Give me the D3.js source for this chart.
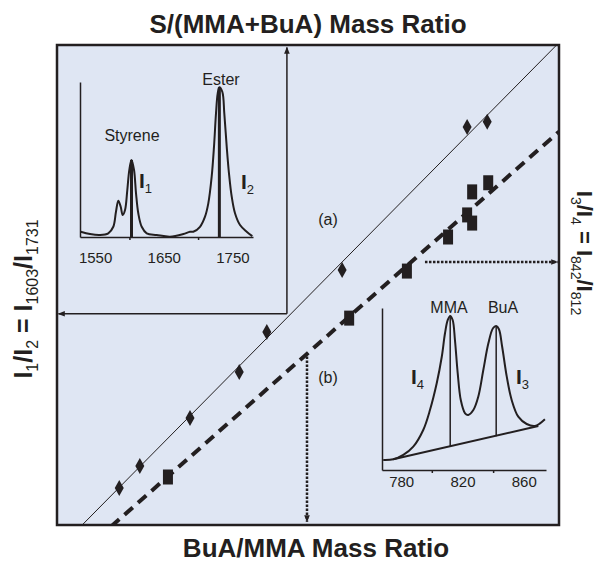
<!DOCTYPE html>
<html>
<head>
<meta charset="utf-8">
<script src="https://cdn.jsdelivr.net/npm/d3@7"></script>
<style>
  body { margin: 0; background: #fff; }
  svg text { font-family: "Liberation Sans", Arial, Helvetica, sans-serif; fill: #231f20; }
</style>
</head>
<body>
<svg width="601" height="565" class="chart"></svg>
<script>
// series (a): diamonds, S/(MMA+BuA) vs I1/I2 (normalised axes, no ticks in the original)
var diamondX = [0.124, 0.165, 0.265, 0.363, 0.418, 0.568, 0.817, 0.857];
var diamondY = [0.077, 0.123, 0.223, 0.319, 0.402, 0.531, 0.829, 0.840];
// series (b): squares, BuA/MMA vs I3/I4
var squareX = [0.221, 0.582, 0.697, 0.779, 0.817, 0.827, 0.827, 0.859];
var squareY = [0.100, 0.431, 0.529, 0.600, 0.646, 0.629, 0.694, 0.713];
// linear fits
var fitA = { slope: 1.058, intercept: -0.053 };
var fitB = { slope: 0.922, intercept: -0.1025 };

// inset 1: Raman spectrum 1528-1780 cm-1
var inset1Wn = [1529, 1542.6, 1557.1, 1569.2, 1576.5, 1580.4, 1583.8, 1587.3, 1590.2, 1593.6,
  1596.9, 1599.8, 1603, 1606.7, 1609.6, 1612.9, 1617.9, 1625.2, 1639.7, 1659.1, 1678.5, 1688.2,
  1693, 1702.8, 1710.1, 1714.9, 1719.8, 1723.2, 1726.1, 1728.6, 1731, 1735.3, 1738.2, 1741.7,
  1745, 1749, 1753.8, 1761.1, 1770.8, 1779];
var inset1Int = [0.034, 0.019, 0.013, 0.024, 0.066, 0.163, 0.234, 0.195, 0.142, 0.174,
  0.303, 0.432, 0.497, 0.432, 0.282, 0.153, 0.066, 0.024, 0.013, 0.002, 0.019, 0.034,
  0.034, 0.066, 0.131, 0.217, 0.389, 0.583, 0.798, 0.927, 0.966, 0.937, 0.798, 0.583,
  0.411, 0.260, 0.153, 0.077, 0.034, 0.006];
var inset1Peaks = [1603, 1731];
var inset1PeakInt = [0.497, 0.966];
var inset1Ticks = [1600, 1700];
var inset1Labels = [1550, 1650, 1750];

// inset 2: Raman spectrum 767-875 cm-1
var inset2Wn = [768.3, 774.9, 781.4, 787.9, 794.4, 798.8, 803.2, 806.5, 808.6, 810.4, 812,
  813.6, 815.1, 816.9, 818.9, 821.7, 823.8, 827.1, 830.3, 833.6, 836.9, 839.9, 842, 843.8,
  845.9, 848.9, 852.1, 856.4, 861.9, 867.3, 870.6, 873.8];
var inset2Int = [0.062, 0.066, 0.093, 0.144, 0.247, 0.370, 0.535, 0.699, 0.844, 0.926, 0.951,
  0.926, 0.802, 0.597, 0.432, 0.350, 0.340, 0.370, 0.452, 0.617, 0.782, 0.875, 0.889, 0.869,
  0.761, 0.576, 0.432, 0.329, 0.284, 0.272, 0.288, 0.313];
var inset2BaseWn = [774.9, 869.5];
var inset2BaseInt = [0.066, 0.272];
var inset2Peaks = [812, 842];
var inset2PeakBase = [0.147, 0.209];
var inset2PeakTop = [0.951, 0.885];
var inset2Ticks = [800, 840];
var inset2Labels = [780, 820, 860];

var ink = "#231f20";
var svg = d3.select(".chart");

var frame = { left: 57, top: 45, right: 559, bottom: 525 };
var x = d3.scaleLinear().domain([0, 1]).range([frame.left, frame.right]);
var y = d3.scaleLinear().domain([0, 1]).range([frame.bottom, frame.top]);

var defs = svg.append("defs");
defs.append("clipPath").attr("id", "clip")
  .append("rect")
  .attr("x", frame.left).attr("y", frame.top)
  .attr("width", frame.right - frame.left).attr("height", frame.bottom - frame.top);
defs.append("marker")
  .attr("id", "arrow")
  .attr("viewBox", "0 0 10 10")
  .attr("refX", 9).attr("refY", 5)
  .attr("markerWidth", 7).attr("markerHeight", 7)
  .attr("markerUnits", "userSpaceOnUse")
  .attr("orient", "auto")
  .append("path")
  .attr("d", "M0,1 L10,5 L0,9 Z")
  .attr("fill", ink);

// panel
svg.append("rect")
  .attr("x", frame.left).attr("y", frame.top)
  .attr("width", frame.right - frame.left).attr("height", frame.bottom - frame.top)
  .attr("fill", "#dfe6f3");

// fit lines
var plot = svg.append("g").attr("clip-path", "url(#clip)");
plot.append("line")
  .attr("x1", x(0)).attr("y1", y(fitA.intercept))
  .attr("x2", x(1)).attr("y2", y(fitA.slope + fitA.intercept))
  .attr("stroke", ink).attr("stroke-width", 1);
plot.append("line")
  .attr("x1", x(0)).attr("y1", y(fitB.intercept))
  .attr("x2", x(1)).attr("y2", y(fitB.slope + fitB.intercept))
  .attr("stroke", ink).attr("stroke-width", 4)
  .attr("stroke-dasharray", "11,7");

// read-off arrows (a) solid, (b) dotted
var arrows = [
  { x1: 0.458, y1: 0.44, x2: 0.458, y2: 0.995, dotted: false },
  { x1: 0.458, y1: 0.44, x2: 0.003, y2: 0.44, dotted: false },
  { x1: 0.733, y1: 0.548, x2: 0.997, y2: 0.548, dotted: true },
  { x1: 0.498, y1: 0.351, x2: 0.498, y2: 0.007, dotted: true }
];
svg.selectAll(".arrow")
  .data(arrows)
  .enter().append("line")
  .attr("class", "arrow")
  .attr("x1", function(d) { return x(d.x1); })
  .attr("y1", function(d) { return y(d.y1); })
  .attr("x2", function(d) { return x(d.x2); })
  .attr("y2", function(d) { return y(d.y2); })
  .attr("stroke", ink)
  .attr("stroke-width", function(d) { return d.dotted ? 2.5 : 1.5; })
  .attr("stroke-dasharray", function(d) { return d.dotted ? "2.5,1.5" : null; })
  .attr("marker-end", "url(#arrow)");

// markers
svg.selectAll(".diamond")
  .data(diamondX)
  .enter().append("path")
  .attr("class", "diamond")
  .attr("d", function(d, i) {
    var cx = x(d), cy = y(diamondY[i]);
    return "M" + cx + "," + (cy - 8) + "L" + (cx + 4.5) + "," + cy + "L" + cx + "," + (cy + 8) + "L" + (cx - 4.5) + "," + cy + "Z";
  })
  .attr("fill", ink);

svg.selectAll(".square")
  .data(squareX)
  .enter().append("rect")
  .attr("class", "square")
  .attr("x", function(d) { return x(d) - 5; })
  .attr("y", function(d, i) { return y(squareY[i]) - 7.5; })
  .attr("width", 10)
  .attr("height", 15)
  .attr("fill", ink);

svg.append("text").attr("x", 328).attr("y", 225).attr("text-anchor", "middle")
  .attr("font-size", 16).text("(a)");
svg.append("text").attr("x", 328).attr("y", 383).attr("text-anchor", "middle")
  .attr("font-size", 16).text("(b)");

// ---- inset 1 ----
var ix1 = d3.scaleLinear().domain([1528, 1780]).range([80, 253]);
var iy1 = d3.scaleLinear().domain([0, 1]).range([237, 82]);
var g1 = svg.append("g");

g1.append("g")
  .attr("transform", "translate(0,237)")
  .call(d3.axisBottom(ix1).tickValues(inset1Ticks).tickSize(3).tickSizeOuter(0).tickFormat(""))
  .call(function(a) { a.selectAll("path, line").attr("stroke", ink).attr("stroke-width", 1.5); });
g1.append("g")
  .attr("transform", "translate(0,237)")
  .call(d3.axisBottom(ix1).tickValues(inset1Labels).tickSize(0).tickPadding(15).tickFormat(d3.format("d")))
  .call(function(a) {
    a.select(".domain").remove();
    a.selectAll("text").attr("font-size", 15).attr("font-family", null).attr("fill", ink);
  });
g1.append("g")
  .attr("transform", "translate(80,0)")
  .call(d3.axisLeft(iy1).tickValues([]).tickSizeOuter(0))
  .call(function(a) { a.select(".domain").attr("stroke", ink).attr("stroke-width", 1.5); });

g1.append("path")
  .datum(inset1Wn)
  .attr("d", d3.line()
    .x(function(d) { return ix1(d); })
    .y(function(d, i) { return iy1(inset1Int[i]); })
    .curve(d3.curveCatmullRom))
  .attr("fill", "none").attr("stroke", ink).attr("stroke-width", 2);

g1.selectAll(".bar1")
  .data(inset1Peaks)
  .enter().append("line")
  .attr("x1", function(d) { return ix1(d); }).attr("x2", function(d) { return ix1(d); })
  .attr("y1", iy1(0)).attr("y2", function(d, i) { return iy1(inset1PeakInt[i]); })
  .attr("stroke", ink).attr("stroke-width", 3);

g1.append("text").attr("x", 132).attr("y", 141).attr("text-anchor", "middle")
  .attr("font-size", 16).text("Styrene");
g1.append("text").attr("x", 221).attr("y", 85).attr("text-anchor", "middle")
  .attr("font-size", 16).text("Ester");

function intensityLabel(g, px, py, sub) {
  var t = g.append("text").attr("x", px).attr("y", py);
  t.append("tspan").attr("font-size", 21).attr("font-weight", "bold").text("I");
  t.append("tspan").attr("font-size", 13).attr("dy", 5).text(sub);
}
intensityLabel(g1, 139, 188, "1");
intensityLabel(g1, 241, 189, "2");

// ---- inset 2 ----
var ix2 = d3.scaleLinear().domain([767.5, 874.5]).range([382, 546]);
var iy2 = d3.scaleLinear().domain([0, 1]).range([470, 308]);
var g2 = svg.append("g");

g2.append("g")
  .attr("transform", "translate(0,470)")
  .call(d3.axisBottom(ix2).tickValues(inset2Ticks).tickSize(3).tickSizeOuter(0).tickFormat(""))
  .call(function(a) { a.selectAll("path, line").attr("stroke", ink).attr("stroke-width", 1.5); });
g2.append("g")
  .attr("transform", "translate(0,470)")
  .call(d3.axisBottom(ix2).tickValues(inset2Labels).tickSize(0).tickPadding(6).tickFormat(d3.format("d")))
  .call(function(a) {
    a.select(".domain").remove();
    a.selectAll("text").attr("font-size", 15).attr("font-family", null).attr("fill", ink);
  });
g2.append("g")
  .attr("transform", "translate(382,0)")
  .call(d3.axisLeft(iy2).tickValues([]).tickSizeOuter(0))
  .call(function(a) { a.select(".domain").attr("stroke", ink).attr("stroke-width", 1.5); });

g2.append("path")
  .datum(inset2Wn)
  .attr("d", d3.line()
    .x(function(d) { return ix2(d); })
    .y(function(d, i) { return iy2(inset2Int[i]); })
    .curve(d3.curveCatmullRom))
  .attr("fill", "none").attr("stroke", ink).attr("stroke-width", 2);

g2.append("line")
  .attr("x1", ix2(inset2BaseWn[0])).attr("y1", iy2(inset2BaseInt[0]))
  .attr("x2", ix2(inset2BaseWn[1])).attr("y2", iy2(inset2BaseInt[1]))
  .attr("stroke", ink).attr("stroke-width", 2);

g2.selectAll(".bar2")
  .data(inset2Peaks)
  .enter().append("line")
  .attr("x1", function(d) { return ix2(d); }).attr("x2", function(d) { return ix2(d); })
  .attr("y1", function(d, i) { return iy2(inset2PeakBase[i]); })
  .attr("y2", function(d, i) { return iy2(inset2PeakTop[i]); })
  .attr("stroke", ink).attr("stroke-width", 1.5);

g2.append("text").attr("x", 449).attr("y", 313).attr("text-anchor", "middle")
  .attr("font-size", 16).text("MMA");
g2.append("text").attr("x", 503).attr("y", 313).attr("text-anchor", "middle")
  .attr("font-size", 16).text("BuA");
intensityLabel(g2, 411, 384, "4");
intensityLabel(g2, 516, 384, "3");

// frame on top
svg.append("rect")
  .attr("x", frame.left).attr("y", frame.top)
  .attr("width", frame.right - frame.left).attr("height", frame.bottom - frame.top)
  .attr("fill", "none").attr("stroke", ink).attr("stroke-width", 2.5);

// axis titles
svg.append("text").attr("x", 308).attr("y", 33).attr("text-anchor", "middle")
  .attr("font-size", 26).attr("font-weight", "bold").text("S/(MMA+BuA) Mass Ratio");
svg.append("text").attr("x", 316).attr("y", 557).attr("text-anchor", "middle")
  .attr("font-size", 26).attr("font-weight", "bold").text("BuA/MMA Mass Ratio");

// rotated ratio titles with subscripts
function ratioTitle(tx, ty, angle, size, parts) {
  var t = svg.append("text")
    .attr("transform", "translate(" + tx + "," + ty + ") rotate(" + angle + ")")
    .attr("text-anchor", "middle")
    .attr("font-size", size).attr("font-weight", "bold");
  parts.forEach(function(p) {
    var s = t.append("tspan").text(p[0]);
    if (p[1] === "sub") s.attr("font-size", size * 0.64).attr("font-weight", "normal").attr("dy", 6);
    if (p[1] === "up") s.attr("dy", -6);
  });
}
ratioTitle(32, 299, -90, 25, [["I"], ["1", "sub"], ["/I", "up"], ["2", "sub"], [" = I", "up"],
  ["1603", "sub"], ["/I", "up"], ["1731", "sub"]]);
ratioTitle(577, 253, 90, 22, [["I"], ["3", "sub"], ["/I", "up"], ["4", "sub"], [" = I", "up"],
  ["842", "sub"], ["/I", "up"], ["812", "sub"]]);
</script>
</body>
</html>
